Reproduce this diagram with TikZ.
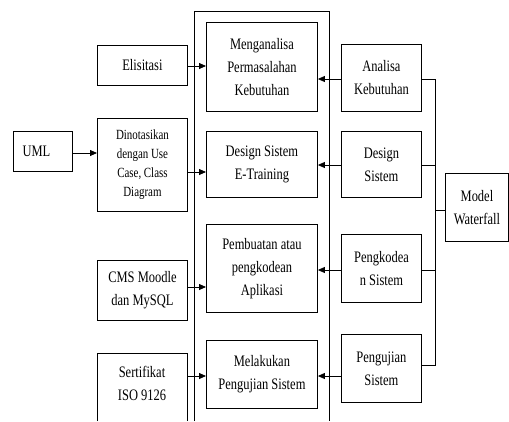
\documentclass[tikz,border=0pt]{standalone}
\usepackage{fontspec}
\setmainfont[FakeStretch=0.78]{Liberation Serif}
\usetikzlibrary{arrows.meta}
\begin{document}
\begin{tikzpicture}[x=1pt,y=-1pt,
  box/.style={draw,line width=0.9pt,align=center,inner sep=0pt,anchor=north west,font=\fontsize{16}{23}\selectfont},
  smallbox/.style={box,font=\fontsize{14}{19}\selectfont},
  arr/.style={line width=0.8pt,-{Triangle[length=7pt,width=6pt]}},
  ln/.style={line width=0.8pt}]
\useasboundingbox (0,0) rectangle (509,421);
% process column frame, open at the bottom
\draw[ln] (194,421) -- (194,11) -- (329,11) -- (329,421);

% left inputs
\node[box,minimum width=90pt,minimum height=40pt] (elis) at (97,45) {Elisitasi};
\node[box,minimum width=59pt,minimum height=40pt,anchor=north west] (uml) at (13,131) {UML\hspace*{13pt}};
\node[smallbox,minimum width=90pt,minimum height=93pt] (dino) at (97,118) {Dinotasikan\\dengan Use\\Case, Class\\Diagram};
\node[box,minimum width=90pt,minimum height=60pt] (cms) at (97,260) {CMS Moodle\\dan MySQL};
\draw[ln] (97,421) -- (97,353) -- (187,353) -- (187,421);
\node[align=center,inner sep=0pt,font=\fontsize{16}{23}\selectfont] (sert) at (142,383) {Sertifikat\\ISO 9126};

% process steps
\node[box,minimum width=111pt,minimum height=89pt] (p1) at (206,22) {Menganalisa\\Permasalahan\\Kebutuhan};
\node[box,minimum width=111pt,minimum height=66pt] (p2) at (206,131) {Design Sistem\\E-Training};
\node[box,minimum width=111pt,minimum height=88pt] (p3) at (206,224) {Pembuatan atau\\pengkodean\\Aplikasi};
\node[box,minimum width=111pt,minimum height=68pt] (p4) at (206,340) {Melakukan\\Pengujian Sistem};

% waterfall phases
\node[box,minimum width=80pt,minimum height=67pt] (w1) at (341,44) {Analisa\\Kebutuhan};
\node[box,minimum width=80pt,minimum height=66pt] (w2) at (341,131) {Design\\Sistem};
\node[box,minimum width=80pt,minimum height=68pt] (w3) at (341,234) {Pengkodea\\n Sistem};
\node[box,minimum width=80pt,minimum height=68pt] (w4) at (341,334) {Pengujian\\Sistem};
\node[box,minimum width=63pt,minimum height=68pt] (mw) at (445,173) {Model\\Waterfall};

% inputs into the process steps
\draw[arr] (elis.east |- 0,66) -- (p1.west |- 0,66);
\draw[arr] (uml.east |- 0,153) -- (dino.west |- 0,153);
\draw[arr] (dino.east |- 0,172) -- (p2.west |- 0,172);
\draw[arr] (cms.east |- 0,287) -- (p3.west |- 0,287);
\draw[arr] (187,376) -- (p4.west |- 0,376);

% phases into the process steps
\draw[arr] (w1.west |- 0,79) -- (p1.east |- 0,79);
\draw[arr] (w2.west |- 0,165) -- (p2.east |- 0,165);
\draw[arr] (w3.west |- 0,270) -- (p3.east |- 0,270);
\draw[arr] (w4.west |- 0,376) -- (p4.east |- 0,376);

% waterfall bus
\coordinate (bt) at (435,79);
\coordinate (bb) at (435,365);
\draw[ln] (w1.east |- 0,79) -- (bt) -- (bb) -- (w4.east |- 0,365);
\draw[ln] (w2.east |- 0,165) -- (435,165);
\draw[ln] (w3.east |- 0,270) -- (435,270);
\draw[ln] (435,210) -- (mw.west |- 0,210);
\end{tikzpicture}
\end{document}
